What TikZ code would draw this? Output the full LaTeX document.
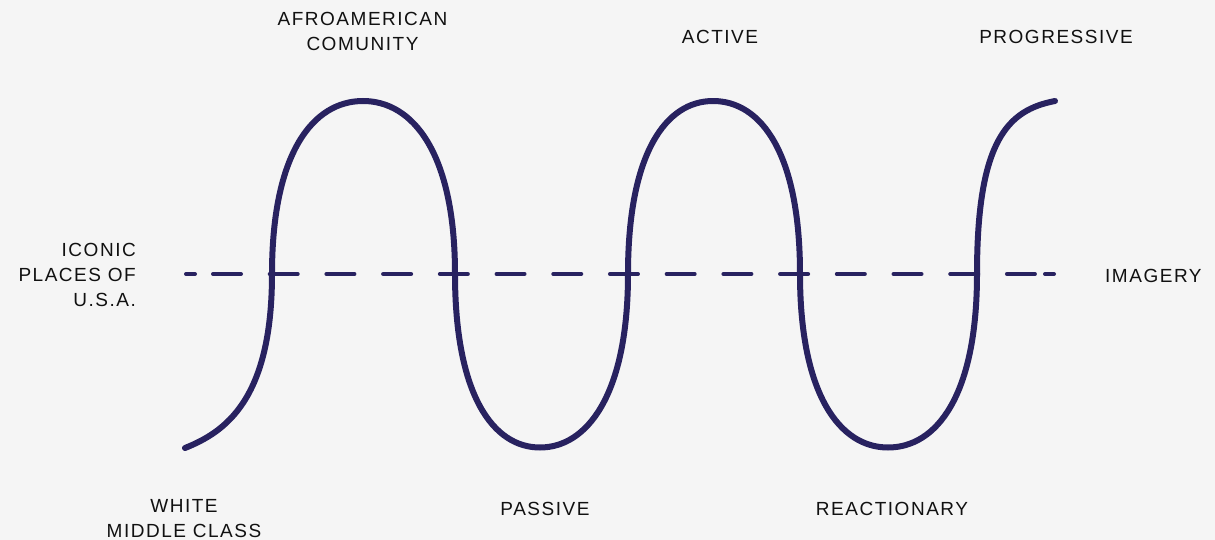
\documentclass[tikz,border=0pt]{standalone}
\usepackage{fontspec}
\newfontfamily\labfont{Liberation Sans}[LetterSpace=8]
\definecolor{bgc}{HTML}{F5F5F5}
\definecolor{wave}{HTML}{282260}
\definecolor{txt}{HTML}{111111}
\tikzset{
  lbl/.style={inner sep=0pt, text=txt, font=\labfont\fontsize{19}{25}\selectfont},
  wavestroke/.style={draw=wave, line width=6pt, line cap=round, line join=round},
  refline/.style={draw=wave, line width=4pt, line cap=round},
}
\begin{document}
\begin{tikzpicture}[x=1pt,y=-1pt]
\fill[bgc] (0,0) rectangle (1215,540);
\useasboundingbox (0,0) rectangle (1215,540);

% reference (dashed) line
\coordinate (d0a) at (186,274);
\coordinate (d0b) at (195,274);
\coordinate (d1a) at (213,274);
\coordinate (d1b) at (1035,274);
\coordinate (d2a) at (1045,274);
\coordinate (d2b) at (1054,274);
\draw[refline] (d0a) -- (d0b);
\draw[refline, dash pattern=on 28pt off 28.71pt] (d1a) -- (d1b);
\draw[refline] (d2a) -- (d2b);

% wave
\coordinate (w0) at (185,448);
\coordinate (c1) at (272,274);
\coordinate (p1) at (363,101);
\coordinate (c2) at (455,274);
\coordinate (t1) at (540,447.5);
\coordinate (c3) at (628,274);
\coordinate (p2) at (713,101);
\coordinate (c4) at (800,274);
\coordinate (t2) at (888,447.5);
\coordinate (c5) at (977,274);
\coordinate (w1) at (1055,101);
\draw[wavestroke] (w0)
  .. controls (225,432) and (272,400) .. (c1)
  .. controls (272,153) and (313,101) .. (p1)
  .. controls (413,101) and (455,153) .. (c2)
  .. controls (455,395) and (493,447.5) .. (t1)
  .. controls (587,447.5) and (628,395) .. (c3)
  .. controls (628,153) and (666,101) .. (p2)
  .. controls (761,101) and (800,153) .. (c4)
  .. controls (800,395) and (840,447.5) .. (t2)
  .. controls (937,447.5) and (977,395) .. (c5)
  .. controls (977,140) and (1008,110) .. (w1);

% labels
\node[lbl, anchor=base] (afro) at (362.5,26) {\begin{tabular}[t]{@{}c@{}}AFROAMERICAN\\COMUNITY\end{tabular}};
\node[lbl, anchor=base] (active) at (720,44) {ACTIVE};
\node[lbl, anchor=base] (prog) at (1056,44) {PROGRESSIVE};
\node[lbl, anchor=base east] (iconic) at (136,256.7) {\begin{tabular}[t]{@{}r@{}}ICONIC\\PLACES OF\\U.S.A.\end{tabular}};
\node[lbl, anchor=base west] (imag) at (1105,282.3) {IMAGERY};
\node[lbl, anchor=base] (white) at (184,512.5) {\begin{tabular}[t]{@{}c@{}}WHITE\\MIDDLE CLASS\end{tabular}};
\node[lbl, anchor=base] (passive) at (545,515.7) {PASSIVE};
\node[lbl, anchor=base] (react) at (892,515.7) {REACTIONARY};
\end{tikzpicture}
\end{document}
